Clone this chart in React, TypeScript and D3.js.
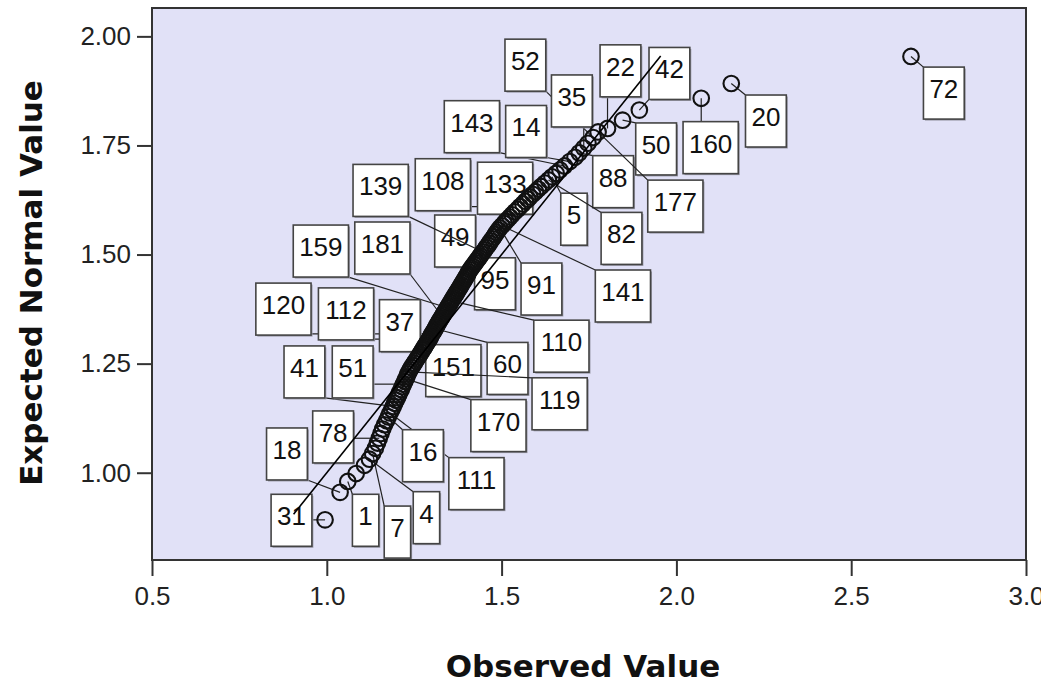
import React, { useEffect, useRef } from 'react';
import * as d3 from 'd3';

// sorted cases: observed value vs expected normal value
const observed = [
  0.995, 1.038, 1.060, 1.084, 1.108, 1.122, 1.131, 1.139, 1.145, 1.150, 1.155, 1.160, 1.165, 1.171, 1.176, 1.181, 1.186,
  1.190, 1.194, 1.198, 1.202, 1.206, 1.209, 1.213, 1.216, 1.219, 1.223, 1.226, 1.229, 1.232, 1.235, 1.238,
  1.242, 1.246, 1.250, 1.254, 1.258, 1.262, 1.266, 1.270, 1.274, 1.277, 1.280, 1.283, 1.287,
  1.290, 1.293, 1.296, 1.298, 1.301, 1.304, 1.307, 1.310, 1.313, 1.315, 1.318, 1.321, 1.324,
  1.327, 1.330, 1.333, 1.336, 1.339, 1.342, 1.345, 1.348, 1.351, 1.354, 1.357, 1.360, 1.363, 1.367,
  1.370, 1.373, 1.376, 1.379, 1.382, 1.385, 1.388, 1.391, 1.394, 1.397, 1.400, 1.403, 1.406, 1.410,
  1.414, 1.417, 1.421, 1.425, 1.428, 1.432, 1.436, 1.439, 1.443, 1.447, 1.452,
  1.456, 1.461, 1.465, 1.469, 1.474, 1.478, 1.482, 1.486, 1.491, 1.495,
  1.501, 1.507, 1.512, 1.518, 1.524, 1.530, 1.538,
  1.546, 1.553, 1.561, 1.568, 1.575, 1.581,
  1.589, 1.597, 1.605, 1.613, 1.624,
  1.634, 1.644, 1.656, 1.667,
  1.680, 1.695, 1.710,
  1.722, 1.735, 1.747, 1.762, 1.776,
  1.803, 1.846, 1.894, 2.071, 2.157, 2.671
];
const expected = [
  0.892, 0.955, 0.980, 0.998, 1.017, 1.031, 1.044, 1.056, 1.068, 1.079, 1.090, 1.100, 1.110, 1.119, 1.128, 1.137, 1.145,
  1.152, 1.159, 1.166, 1.172, 1.179, 1.185, 1.191, 1.197, 1.203, 1.209, 1.215, 1.220, 1.226, 1.231, 1.236,
  1.241, 1.246, 1.251, 1.256, 1.261, 1.266, 1.271, 1.276, 1.281, 1.285, 1.289, 1.293, 1.298,
  1.302, 1.306, 1.310, 1.314, 1.318, 1.322, 1.326, 1.330, 1.334, 1.338, 1.342, 1.346, 1.350,
  1.354, 1.358, 1.362, 1.366, 1.370, 1.374, 1.378, 1.382, 1.386, 1.390, 1.394, 1.398, 1.402, 1.407,
  1.411, 1.415, 1.419, 1.423, 1.427, 1.431, 1.435, 1.439, 1.443, 1.447, 1.451, 1.455, 1.460, 1.465,
  1.469, 1.473, 1.477, 1.481, 1.485, 1.489, 1.493, 1.497, 1.501, 1.506, 1.511,
  1.516, 1.521, 1.526, 1.531, 1.536, 1.541, 1.546, 1.551, 1.556, 1.561,
  1.566, 1.571, 1.576, 1.581, 1.586, 1.591, 1.598,
  1.604, 1.610, 1.616, 1.622, 1.627, 1.632,
  1.638, 1.644, 1.650, 1.656, 1.664,
  1.671, 1.678, 1.686, 1.694,
  1.703, 1.713, 1.723,
  1.733, 1.744, 1.755, 1.768, 1.781,
  1.789, 1.808, 1.831, 1.858, 1.892, 1.954
];

// labelled cases (drawing order matters: later boxes cover earlier leaders)
const caseIds = ['49', '139', '141', '143', '120', '111', '41', '72', '20', '160', '50', '42', '22', '52', '35', '14',
  '108', '133', '88', '5', '82', '177', '159', '181', '95', '91', '112', '37', '110', '51', '151', '60', '119', '170',
  '18', '78', '16', '31', '1', '7', '4'];
// the point each label points at
const caseObserved = [1.452, 1.447, 1.501, 1.680, 1.301, 1.181, 1.190, 2.671, 2.157, 2.071, 1.846, 1.894, 1.803, 1.762, 1.735, 1.695,
  1.553, 1.589, 1.722, 1.644, 1.634, 1.776, 1.345, 1.330, 1.421, 1.495, 1.293, 1.298, 1.357, 1.219, 1.262, 1.310, 1.235, 1.226,
  1.038, 1.150, 1.176, 0.995, 1.060, 1.131, 1.122];
const caseExpected = [1.511, 1.506, 1.566, 1.703, 1.318, 1.137, 1.152, 1.954, 1.892, 1.858, 1.808, 1.831, 1.789, 1.768, 1.744, 1.713,
  1.610, 1.638, 1.733, 1.678, 1.671, 1.781, 1.378, 1.358, 1.477, 1.561, 1.306, 1.314, 1.394, 1.203, 1.266, 1.330, 1.231, 1.215,
  0.955, 1.079, 1.128, 0.892, 0.980, 1.044, 1.031];
// centre of each label box, in axis units
const labelObserved = [1.367, 1.154, 1.847, 1.415, 0.876, 1.428, 0.936, 2.765, 2.256, 2.098, 1.942, 1.980, 1.840, 1.568, 1.701, 1.570,
  1.332, 1.510, 1.819, 1.707, 1.843, 1.997, 0.983, 1.159, 1.481, 1.614, 1.055, 1.209, 1.671, 1.074, 1.362, 1.517, 1.666, 1.491,
  0.886, 1.018, 1.275, 0.899, 1.111, 1.202, 1.285];
const labelExpected = [1.531, 1.647, 1.405, 1.793, 1.375, 0.975, 1.231, 1.870, 1.806, 1.745, 1.742, 1.915, 1.921, 1.934, 1.852, 1.782,
  1.660, 1.652, 1.667, 1.581, 1.537, 1.611, 1.508, 1.515, 1.433, 1.421, 1.364, 1.337, 1.290, 1.231, 1.234, 1.239, 1.158, 1.108,
  1.043, 1.082, 1.039, 0.891, 0.891, 0.864, 0.897];

const xTicks = [0.5, 1.0, 1.5, 2.0, 2.5, 3.0];
const yTicks = [1.0, 1.25, 1.5, 1.75, 2.0];
const refLine = [0.905, 1.955];

const App = () => {
  const ref = useRef<SVGSVGElement>(null);

  useEffect(() => {
    const svg = d3.select(ref.current);
    svg.selectAll('*').remove();

    const width = 1041, height = 686;
    const left = 152, right = 1026, top = 8, bottom = 560;
    const font = '"Liberation Sans", Arial, sans-serif';

    svg.attr('width', width).attr('height', height);

    const x = d3.scaleLinear().domain([0.5, 3.0]).range([left, right]);
    const y = d3.scaleLinear().domain([0.8, 2.065]).range([bottom, top]);

    svg.append('rect').attr('width', width).attr('height', height).attr('fill', '#fff');

    svg.append('defs').append('clipPath').attr('id', 'plotClip')
      .append('rect').attr('x', left).attr('y', top).attr('width', right - left).attr('height', bottom - top);

    svg.append('rect')
      .attr('x', left).attr('y', top)
      .attr('width', right - left).attr('height', bottom - top)
      .attr('fill', '#e1e1f7');

    const plot = svg.append('g').attr('clip-path', 'url(#plotClip)');

    // case labels with leader lines
    const boxH = 52;
    caseIds.forEach((id, i) => {
      const px = x(caseObserved[i]);
      const py = y(caseExpected[i]);
      const w = id.length * 14.4 + 12;
      const cx = x(labelObserved[i]);
      const cy = y(labelExpected[i]);
      const bx = cx - w / 2;
      const by = cy - boxH / 2;
      const sx = Math.max(bx, Math.min(bx + w, px));
      const sy = Math.max(by, Math.min(by + boxH, py));

      plot.append('line')
        .attr('x1', sx).attr('y1', sy)
        .attr('x2', px).attr('y2', py)
        .attr('stroke', '#222')
        .attr('stroke-width', 1.2);

      plot.append('rect')
        .attr('x', bx + 1.5).attr('y', by + 1.5)
        .attr('width', w).attr('height', boxH)
        .attr('fill', '#9a9aa8');

      plot.append('rect')
        .attr('x', bx).attr('y', by)
        .attr('width', w).attr('height', boxH)
        .attr('fill', '#fff')
        .attr('stroke', '#444')
        .attr('stroke-width', 1.6);

      plot.append('text')
        .attr('x', cx)
        .attr('y', by + 31)
        .attr('text-anchor', 'middle')
        .attr('font-family', font)
        .attr('font-size', '26px')
        .attr('fill', '#111')
        .text(id);
    });

    // points
    plot.append('g')
      .selectAll('circle')
      .data(observed.map((o, i) => [o, expected[i]]))
      .join('circle')
      .attr('cx', (d) => x(d[0]))
      .attr('cy', (d) => y(d[1]))
      .attr('r', 7.8)
      .attr('fill', 'none')
      .attr('stroke', '#111')
      .attr('stroke-width', 2.1);

    // reference line y = x
    plot.append('line')
      .attr('x1', x(refLine[0])).attr('y1', y(refLine[0]))
      .attr('x2', x(refLine[1])).attr('y2', y(refLine[1]))
      .attr('stroke', '#000')
      .attr('stroke-width', 1.6);

    // frame
    svg.append('rect')
      .attr('x', left).attr('y', top)
      .attr('width', right - left).attr('height', bottom - top)
      .attr('fill', 'none')
      .attr('stroke', '#333')
      .attr('stroke-width', 2);

    const xAxis = svg.append('g')
      .attr('transform', `translate(0,${bottom})`)
      .call(d3.axisBottom(x).tickValues(xTicks).tickFormat(d3.format('.1f')).tickSize(16).tickPadding(11));
    const yAxis = svg.append('g')
      .attr('transform', `translate(${left},0)`)
      .call(d3.axisLeft(y).tickValues(yTicks).tickFormat(d3.format('.2f')).tickSize(15).tickPadding(6));

    [xAxis, yAxis].forEach((ax) => {
      ax.select('.domain').remove();
      ax.selectAll('line').attr('stroke', '#333').attr('stroke-width', 2);
      ax.selectAll('text')
        .attr('font-family', font)
        .attr('font-size', '26px')
        .attr('fill', '#222');
    });

    svg.append('text')
      .attr('x', (left + right) / 2 - 6)
      .attr('y', 677)
      .attr('text-anchor', 'middle')
      .attr('font-family', '"DejaVu Sans", Verdana, sans-serif')
      .attr('font-weight', 'bold')
      .attr('font-size', '31px')
      .attr('fill', '#111')
      .text('Observed Value');

    svg.append('text')
      .attr('transform', `translate(42,${(top + bottom) / 2 - 1}) rotate(-90)`)
      .attr('text-anchor', 'middle')
      .attr('font-family', '"DejaVu Sans", Verdana, sans-serif')
      .attr('font-weight', 'bold')
      .attr('font-size', '31px')
      .attr('fill', '#111')
      .text('Expected Normal Value');
  }, []);

  return <svg ref={ref} style={{ position: 'absolute', left: 0, top: 0, display: 'block' }}></svg>;
};

export default App;
